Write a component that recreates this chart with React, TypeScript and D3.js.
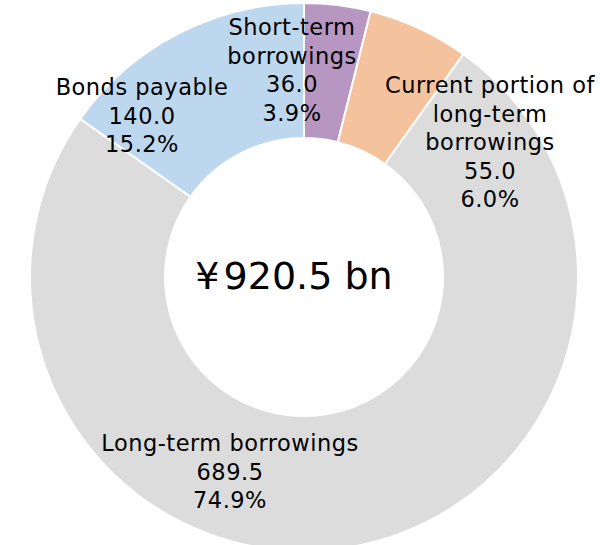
import React from "react";
import * as d3 from "d3";

const categories = ["Short-term borrowings", "Current portion of long-term borrowings", "Long-term borrowings", "Bonds payable"];
const values = [36.0, 55.0, 689.5, 140.0];
const percents = ["3.9%", "6.0%", "74.9%", "15.2%"];
const labelLines = [
  ["Short-term", "borrowings"],
  ["Current portion of", "long-term", "borrowings"],
  ["Long-term borrowings"],
  ["Bonds payable"],
];
const colors = ["#b797c1", "#f4c29c", "#dcdcdc", "#bdd7ee"];
const totalLabel = "¥920.5 bn";

const W = 606, H = 545;
const cx = 304, cy = 277, outerR = 274, innerR = 139;
// label anchor positions (x center, y of first line center)
const labelPos = [
  [292, 27],
  [490, 85],
  [230, 443],
  [142, 87],
];
const lineH = 28.5;

export default function App() {
  const pie = d3.pie<number>().sort(null).value((d) => d).startAngle(0).endAngle(2 * Math.PI);
  const arcs = pie(values);
  const arc = d3.arc<d3.PieArcDatum<number>>().innerRadius(innerR).outerRadius(outerR);
  const fmt = d3.format(".1f");
  return (
    <svg width={W} height={H} style={{ position: "absolute", left: 0, top: 0, background: "#fff" }} fontFamily="'DejaVu Sans', Verdana, sans-serif">
      <g transform={`translate(${cx},${cy})`}>
        {arcs.map((a, i) => (
          <path key={i} d={arc(a) || ""} fill={colors[i]} stroke="#fff" strokeWidth={2} />
        ))}
      </g>
      {arcs.map((a, i) => {
        const lines = [...labelLines[i], fmt(values[i]), percents[i]];
        const [x, y] = labelPos[i];
        return (
          <text key={i} x={x} y={y} textAnchor="middle" fontSize={22.5} letterSpacing={0.5} fill="#000" dominantBaseline="central">
            {lines.map((l, j) => (
              <tspan key={j} x={x} y={y + j * lineH}>{l}</tspan>
            ))}
          </text>
        );
      })}
      <text x={294} y={276} textAnchor="middle" dominantBaseline="central" fontSize={38} fill="#000">
        <tspan>¥</tspan><tspan dx={4}>920.5 bn</tspan>
      </text>
    </svg>
  );
}
